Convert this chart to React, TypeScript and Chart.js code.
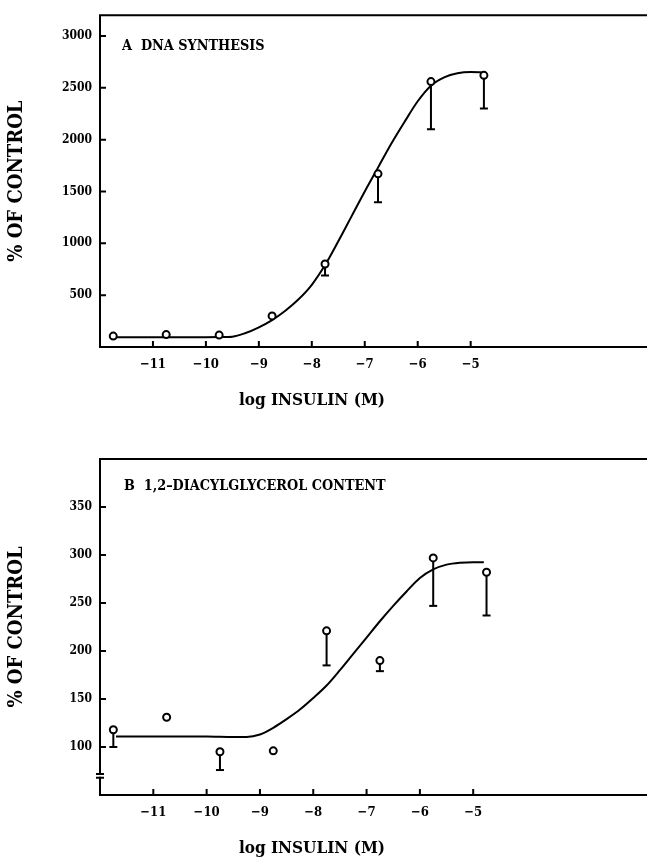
import React, { useEffect, useRef } from "react";
import { Chart, registerables } from "chart.js";

Chart.register(...registerables);

// ---------- data ----------
const doseX = [-11.75, -10.75, -9.75, -8.75, -7.75, -6.75, -5.75, -4.75];
const xTickValues = [-11, -10, -9, -8, -7, -6, -5];

// Panel A: DNA synthesis (% of control)
const dnaMean = [105, 120, 115, 300, 800, 1670, 2560, 2620];
const dnaLow: (number | null)[] = [null, null, null, null, 690, 1395, 2100, 2300];
const dnaFitX = [-11.75, -10.75, -10, -9.75, -9.5, -9.25, -9, -8.75, -8.5, -8.25, -8, -7.75, -7.5, -7.25, -7, -6.75, -6.5, -6.25, -6, -5.75, -5.5, -5.25, -5, -4.75];
const dnaFitY = [95, 95, 95, 96, 100, 135, 190, 260, 350, 460, 600, 790, 1020, 1260, 1500, 1730, 1960, 2170, 2370, 2520, 2600, 2640, 2652, 2648];
const dnaYTicks = [500, 1000, 1500, 2000, 2500, 3000];

// Panel B: 1,2-diacylglycerol content (% of control)
const dagMean = [118, 131, 95, 96, 221, 190, 297, 282];
const dagLow: (number | null)[] = [100, null, 76, null, 185, 179, 247, 237];
const dagFitX = [-11.7, -10, -9.5, -9.25, -9, -8.75, -8.5, -8.25, -8, -7.75, -7.5, -7.25, -7, -6.75, -6.5, -6.25, -6, -5.75, -5.5, -5.25, -5, -4.8];
const dagFitY = [111, 111, 110.5, 110.5, 113, 120, 129, 139, 151, 164, 180, 197, 214, 231, 247, 262, 276, 285, 290, 292, 292.5, 292.5];
const dagYTicks = [100, 150, 200, 250, 300, 350];

const FONT = "'DejaVu Serif Condensed', 'DejaVu Serif', serif";

const framePlugin = {
  id: "frame",
  afterDraw(chart: any, _args: any, opts: any) {
    const { ctx, chartArea: a, scales } = chart;
    const xs = scales.x;
    const ys = scales.y;
    const W = chart.width;
    ctx.save();
    ctx.strokeStyle = "#000";
    ctx.lineWidth = 2;
    ctx.lineCap = "square";
    ctx.beginPath();
    ctx.moveTo(a.left, a.top);
    ctx.lineTo(W + 2, a.top);
    ctx.moveTo(a.left, a.bottom);
    ctx.lineTo(W + 2, a.bottom);
    if (opts && opts.breakAt) {
      const y1 = ys.getPixelForValue(opts.breakAt[0]);
      const y2 = ys.getPixelForValue(opts.breakAt[1]);
      ctx.moveTo(a.left, a.top);
      ctx.lineTo(a.left, y1);
      ctx.moveTo(a.left, y2);
      ctx.lineTo(a.left, a.bottom);
      ctx.stroke();
      ctx.beginPath();
      ctx.lineCap = "butt";
      ctx.moveTo(a.left - 4, y1);
      ctx.lineTo(a.left + 4, y1);
      ctx.moveTo(a.left - 4, y2);
      ctx.lineTo(a.left + 4, y2);
    } else {
      ctx.moveTo(a.left, a.top);
      ctx.lineTo(a.left, a.bottom);
    }
    ctx.stroke();
    ctx.beginPath();
    ctx.lineCap = "butt";
    xs.ticks.forEach((t: any) => {
      const x = xs.getPixelForValue(t.value);
      ctx.moveTo(x, a.bottom);
      ctx.lineTo(x, a.bottom - 6);
    });
    ys.ticks.forEach((t: any) => {
      const y = ys.getPixelForValue(t.value);
      ctx.moveTo(a.left, y);
      ctx.lineTo(a.left + 6, y);
    });
    ctx.stroke();
    ctx.restore();
  },
};

type PanelProps = {
  top: number;
  height: number;
  padTop: number;
  xAxisHeight: number;
  xMin: number;
  xMax: number;
  yMin: number;
  yMax: number;
  yTicks: number[];
  mean: number[];
  low: (number | null)[];
  fitX: number[];
  fitY: number[];
  breakAt: number[] | null;
  label: string;
  labelLeft: number;
  labelTop: number;
  titleTop: number;
};

function Panel(p: PanelProps) {
  const ref = useRef<HTMLCanvasElement>(null);
  useEffect(() => {
    const errorSets = p.mean
      .map((m, i) => ({ m, i }))
      .filter(({ i }) => p.low[i] !== null)
      .map(({ m, i }) => ({
        type: "line" as const,
        data: [
          { x: doseX[i], y: m },
          { x: doseX[i], y: p.low[i] as number },
        ],
        borderColor: "#000",
        borderWidth: 2,
        pointRadius: [0, 4],
        pointStyle: "line" as const,
        pointBorderColor: "#000",
        pointBorderWidth: 2,
        showLine: true,
        order: 2,
      }));
    const chart = new Chart(ref.current as HTMLCanvasElement, {
      type: "scatter",
      data: {
        datasets: [
          {
            type: "scatter",
            data: p.mean.map((m, i) => ({ x: doseX[i], y: m })),
            pointRadius: 3.5,
            pointBackgroundColor: "#fff",
            pointBorderColor: "#000",
            pointBorderWidth: 2,
            order: 0,
          },
          ...errorSets,
          {
            type: "line",
            data: p.fitX.map((x, i) => ({ x, y: p.fitY[i] })),
            borderColor: "#000",
            borderWidth: 2,
            pointRadius: 0,
            cubicInterpolationMode: "monotone",
            showLine: true,
            order: 3,
          },
        ] as any,
      },
      options: {
        animation: false,
        responsive: false,
        events: [],
        layout: { autoPadding: false, padding: { top: p.padTop, right: 0, left: 0, bottom: 0 } },
        plugins: {
          legend: { display: false },
          tooltip: { enabled: false },
          frame: { breakAt: p.breakAt },
        } as any,
        scales: {
          x: {
            type: "linear",
            min: p.xMin,
            max: p.xMax,
            afterBuildTicks: (s: any) => {
              s.ticks = xTickValues.map((v) => ({ value: v }));
            },
            afterFit: (s: any) => {
              s.height = p.xAxisHeight;
            },
            grid: { display: false, drawTicks: false },
            border: { display: false },
            ticks: {
              color: "#000",
              padding: 10,
              font: { family: FONT, size: 13, weight: "bold" },
              callback: (v: any) => "\u2212" + Math.abs(Number(v)),
            },
          },
          y: {
            type: "linear",
            min: p.yMin,
            max: p.yMax,
            afterBuildTicks: (s: any) => {
              s.ticks = p.yTicks.map((v) => ({ value: v }));
            },
            afterFit: (s: any) => {
              s.width = 100;
            },
            grid: { display: false, drawTicks: false },
            border: { display: false },
            ticks: {
              color: "#000",
              padding: 8,
              font: { family: FONT, size: 12, weight: "bold" },
              callback: (v: any) => String(v),
            },
            title: {
              display: true,
              text: "% OF CONTROL",
              color: "#000",
              padding: { top: 5, bottom: 0 },
              font: { family: FONT, size: 20, weight: "bold" },
            },
          },
        },
      } as any,
      plugins: [framePlugin as any],
    });
    return () => chart.destroy();
  }, []);

  return (
    <div style={{ position: "absolute", left: 0, top: p.top, width: 647, height: p.height }}>
      <canvas ref={ref} width={647} height={p.height} style={{ display: "block", width: 647, height: p.height }} />
      <div
        style={{
          position: "absolute",
          left: p.labelLeft,
          top: p.labelTop,
          fontFamily: FONT,
          fontWeight: "bold",
          fontSize: 14.3,
          lineHeight: "15px",
          whiteSpace: "pre",
          color: "#000",
        }}
      >
        {p.label}
      </div>
      <div
        style={{
          position: "absolute",
          left: 162,
          width: 300,
          top: p.titleTop,
          textAlign: "center",
          fontFamily: FONT,
          fontWeight: "bold",
          fontSize: 17,
          lineHeight: "17px",
          color: "#000",
        }}
      >
        log INSULIN (M)
      </div>
    </div>
  );
}

export default function App() {
  return (
    <div style={{ position: "absolute", left: 0, top: 0, width: 647, height: 866, background: "#fff", overflow: "hidden" }}>
      <Panel
        top={0}
        height={420}
        padTop={12}
        xAxisHeight={73}
        xMin={-12}
        xMax={-1.67}
        yMin={0}
        yMax={3200}
        yTicks={dnaYTicks}
        mean={dnaMean}
        low={dnaLow}
        fitX={dnaFitX}
        fitY={dnaFitY}
        breakAt={null}
        label={"A  DNA SYNTHESIS"}
        labelLeft={122}
        labelTop={38}
        titleTop={391}
      />
      <Panel
        top={420}
        height={446}
        padTop={39}
        xAxisHeight={71}
        xMin={-12}
        xMax={-1.74}
        yMin={50}
        yMax={400}
        yTicks={dagYTicks}
        mean={dagMean}
        low={dagLow}
        fitX={dagFitX}
        fitY={dagFitY}
        breakAt={[72, 68]}
        label={"B  1,2\u2013DIACYLGLYCEROL CONTENT"}
        labelLeft={124}
        labelTop={58}
        titleTop={419}
      />
    </div>
  );
}
